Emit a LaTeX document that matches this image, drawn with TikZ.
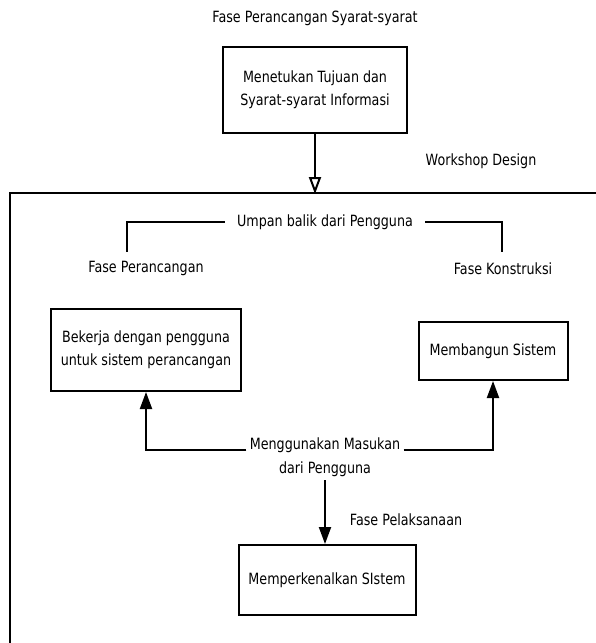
\documentclass[tikz,border=0pt]{standalone}
\usepackage{fontspec}
\setmainfont{DejaVu Sans}[FakeStretch=0.82]
\usetikzlibrary{arrows.meta}
\tikzset{
  phasebox/.style={draw, line width=2pt, align=center, font=\fontsize{15.5}{23}\selectfont},
  lbl/.style={align=center, font=\fontsize{15.5}{24}\selectfont},
  flow/.style={line width=2pt, -{Triangle[width=12pt,length=17pt]}},
  openflow/.style={line width=2pt, -{Triangle[open,width=12pt,length=17pt]}}
}
\begin{document}
\begin{tikzpicture}[x=1pt,y=-1pt]
\useasboundingbox (0,0) rectangle (595,643);

\node[lbl] (reqphase) at (315,18) {Fase Perancangan Syarat-syarat};
\node[phasebox, minimum width=184, minimum height=86] (goals) at (315,90) {Menetukan Tujuan dan\\Syarat-syarat Informasi};
\node[lbl] (workshop) at (481,161) {Workshop Design};
\coordinate (frametop) at (315,194);
\draw[line width=2pt] (10,645) -- (10,193) -- (597,193);
\draw[openflow] (goals) -- (frametop);

% umpan balik
\node[lbl, inner xsep=12] (feedback) at (325,222) {Umpan balik dari Pengguna};
\node[lbl] (designphase) at (146,268) {Fase Perancangan};
\node[lbl] (buildphase) at (503,269) {Fase Konstruksi};
\coordinate (fbleft) at (127,252);
\coordinate (fbright) at (502,252);
\draw[line width=2pt] (feedback.west) -| (fbleft);
\draw[line width=2pt] (feedback.east) -| (fbright);

\node[phasebox, minimum width=190, minimum height=82] (design) at (146,350) {Bekerja dengan pengguna\\untuk sistem perancangan};
\node[phasebox, minimum width=149, minimum height=58] (build) at (493,351) {Membangun Sistem};
\node[lbl] (input) at (325,457) {Menggunakan Masukan\\dari Pengguna};
\draw[flow] ([yshift=7]input.west) -| (design);
\draw[flow] ([yshift=7]input.east) -| (build);

\node[lbl] (implphase) at (406,520) {Fase Pelaksanaan};
\node[phasebox, minimum width=177, minimum height=70] (intro) at (327,580) {Memperkenalkan SIstem};
\draw[flow] (input.south) -- (input.south |- intro.north);

\end{tikzpicture}
\end{document}
